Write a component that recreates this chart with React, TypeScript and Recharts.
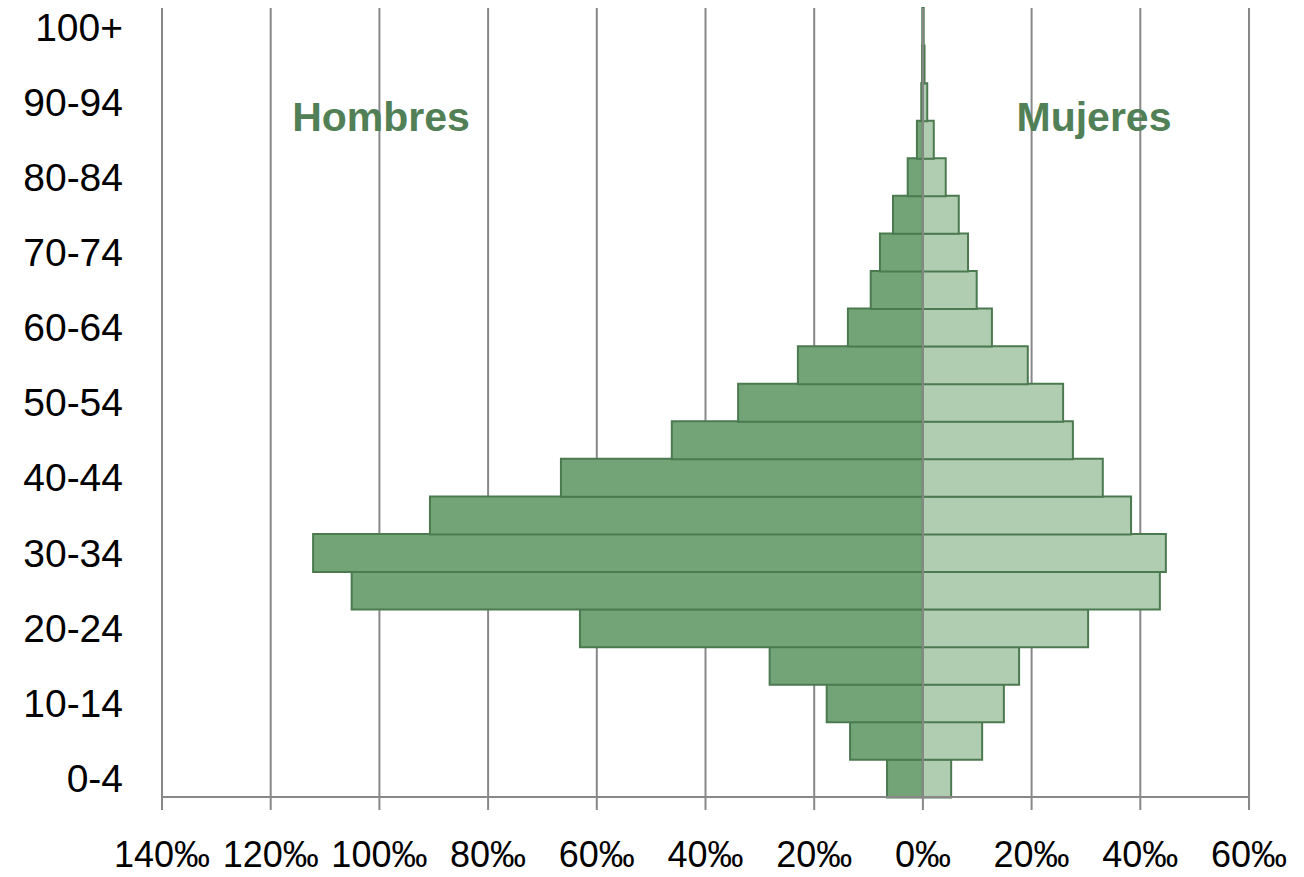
import React from 'react';
import { BarChart, Bar, XAxis, YAxis, CartesianGrid, ReferenceLine } from 'recharts';

const ages = ['0-4', '5-9', '10-14', '15-19', '20-24', '25-29', '30-34', '35-39', '40-44', '45-49', '50-54', '55-59', '60-64', '65-69', '70-74', '75-79', '80-84', '85-89', '90-94', '95-99', '100+'];
const hombres = [-6.6, -13.4, -17.7, -28.2, -63.1, -105.1, -112.2, -90.7, -66.6, -46.2, -34.0, -23.0, -13.8, -9.6, -7.9, -5.5, -2.8, -1.1, -0.3, -0.15, -0.1];
const mujeres = [5.2, 10.9, 14.9, 17.7, 30.4, 43.6, 44.7, 38.3, 33.1, 27.6, 25.8, 19.3, 12.7, 9.9, 8.3, 6.6, 4.2, 2.0, 0.8, 0.3, 0.15];
const xTicks = [-140, -120, -100, -80, -60, -40, -20, 0, 20, 40, 60];
const titles = ['Hombres', 'Mujeres'];

const data = ages.map((age, i) => ({ age, hombres: hombres[i], mujeres: mujeres[i] }));

const FONT = '"Liberation Sans", Arial, sans-serif';
const GRID = '#888888';
const titleColor = '#528056';

export default function App() {
  return (
    <div style={{ position: 'absolute', left: 0, top: 0, width: 1304, height: 877, background: '#fff' }}>
      <BarChart
        width={1304}
        height={877}
        data={data}
        layout="vertical"
        stackOffset="sign"
        barCategoryGap={0}
        margin={{ top: 8, right: 55, left: 0, bottom: 0 }}
      >
        <CartesianGrid horizontal={false} vertical stroke={GRID} strokeWidth={2} />
        <XAxis
          type="number"
          domain={[-140, 60]}
          ticks={xTicks}
          interval={0}
          height={80}
          tickFormatter={(v: number) => `${Math.abs(v)}‰`}
          axisLine={{ stroke: GRID, strokeWidth: 2 }}
          tickLine={{ stroke: GRID, strokeWidth: 2 }}
          tickSize={13}
          tickMargin={31}
          tick={{ fill: '#000', fontSize: 36, fontFamily: FONT }}
        />
        <YAxis
          type="category"
          dataKey="age"
          reversed
          width={162}
          interval={1}
          axisLine={false}
          tickLine={false}
          tickSize={0}
          tickMargin={39}
          tick={{ fill: '#000', fontSize: 39, fontFamily: FONT }}
        />
        <Bar dataKey="hombres" stackId="a" fill="#72A478" stroke="#4C7A50" strokeWidth={2} isAnimationActive={false} />
        <Bar dataKey="mujeres" stackId="a" fill="#B0CDB1" stroke="#4C7A50" strokeWidth={2} isAnimationActive={false} />
        <ReferenceLine x={0} stroke={GRID} strokeWidth={2} />
      </BarChart>
      <div style={{ position: 'absolute', left: 281, top: 97, width: 200, textAlign: 'center', fontFamily: FONT, fontWeight: 'bold', fontSize: 41, lineHeight: '40px', color: titleColor }}>
        {titles[0]}
      </div>
      <div style={{ position: 'absolute', left: 994, top: 97, width: 200, textAlign: 'center', fontFamily: FONT, fontWeight: 'bold', fontSize: 41, lineHeight: '40px', color: titleColor }}>
        {titles[1]}
      </div>
    </div>
  );
}
